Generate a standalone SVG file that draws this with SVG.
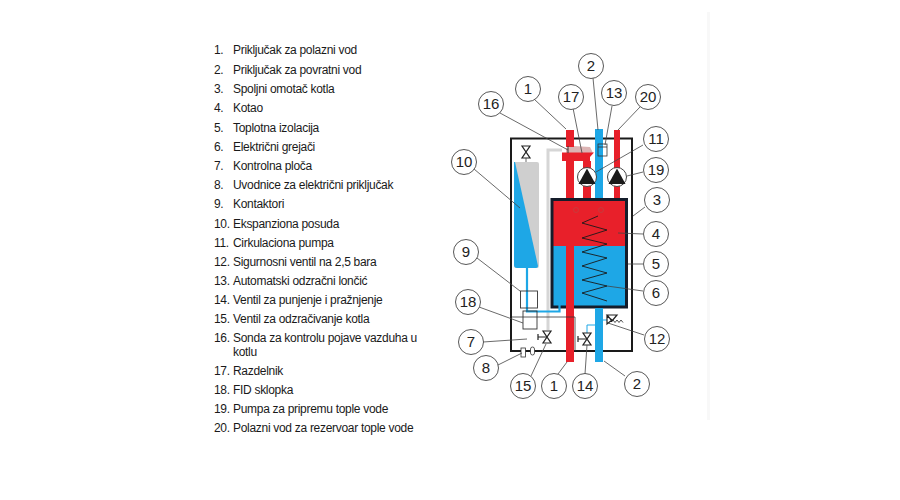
<svg xmlns="http://www.w3.org/2000/svg" width="900" height="500" viewBox="0 0 900 500">
<style>
.t{font-family:"Liberation Sans",Arial,sans-serif;font-size:12px;letter-spacing:-.3px;fill:#1a1a1a}
.n{font-family:"Liberation Sans",Arial,sans-serif;font-size:15px;fill:#222;text-anchor:middle}
.c{fill:#fff;stroke:#444;stroke-width:.9}
.l{stroke:#444;stroke-width:.8;fill:none}
.r{fill:#e8202a}
.b{fill:#1ea7e6}
.v{fill:#fff;stroke:#222;stroke-width:1.200}
</style>
<defs>
<g id="bub"><circle class="c" r="12.5"/></g>
<g id="valve"><path class="v" d="M-4-6L4-6L-4 6L4 6Z"/></g>
<g id="pump"><circle r="9.5" fill="#fff" stroke="#444" stroke-width="1"/><path d="M0-8.500L8.500 7H-8.500Z" fill="#1a1a1a"/></g>
</defs>
<rect width="900" height="500" fill="#fff"/>
<rect x="707" y="12" width="3" height="408" fill="#f8f8f8"/>
<g id="legend">
<text class="t" x="214" y="54">1.</text><text class="t" x="233" y="54">Priključak za polazni vod</text>
<text class="t" x="214" y="74">2.</text><text class="t" x="233" y="74">Priključak za povratni vod</text>
<text class="t" x="214" y="93">3.</text><text class="t" x="233" y="93">Spoljni omotač kotla</text>
<text class="t" x="214" y="112">4.</text><text class="t" x="233" y="112">Kotao</text>
<text class="t" x="214" y="132">5.</text><text class="t" x="233" y="132">Toplotna izolacija</text>
<text class="t" x="214" y="151">6.</text><text class="t" x="233" y="151">Električni grejači</text>
<text class="t" x="214" y="170">7.</text><text class="t" x="233" y="170">Kontrolna ploča</text>
<text class="t" x="214" y="189">8.</text><text class="t" x="233" y="189">Uvodnice za električni priključak</text>
<text class="t" x="214" y="208">9.</text><text class="t" x="233" y="208">Kontaktori</text>
<text class="t" x="214" y="228">10.</text><text class="t" x="233" y="228">Ekspanziona posuda</text>
<text class="t" x="214" y="247">11.</text><text class="t" x="233" y="247">Cirkulaciona pumpa</text>
<text class="t" x="214" y="266">12.</text><text class="t" x="233" y="266">Sigurnosni ventil na 2,5 bara</text>
<text class="t" x="214" y="285">13.</text><text class="t" x="233" y="285">Automatski odzračni lončić</text>
<text class="t" x="214" y="304">14.</text><text class="t" x="233" y="304">Ventil za punjenje i pražnjenje</text>
<text class="t" x="214" y="323">15.</text><text class="t" x="233" y="323">Ventil za odzračivanje kotla</text>
<text class="t" x="214" y="342">16.</text><text class="t" x="233" y="342">Sonda za kontrolu pojave vazduha u</text>
<text class="t" x="233" y="356">kotlu</text>
<text class="t" x="214" y="375">17.</text><text class="t" x="233" y="375">Razdelnik</text>
<text class="t" x="214" y="394">18.</text><text class="t" x="233" y="394">FID sklopka</text>
<text class="t" x="214" y="413">19.</text><text class="t" x="233" y="413">Pumpa za pripremu tople vode</text>
<text class="t" x="214" y="432">20.</text><text class="t" x="233" y="432">Polazni vod za rezervoar tople vode</text>
</g>
<g id="boiler">
<rect x="511" y="138.500" width="121" height="212.500" fill="#fff" stroke="#1a1a1a" stroke-width="2"/>
<path d="M548 330V150H562" fill="none" stroke="#d6d6d6" stroke-width="3"/>
<path d="M566 153V148L574 146L590 147L593 153Z" fill="#dcb4b4"/>
<rect x="514" y="162" width="25" height="106" rx="2" fill="#cfcfcf"/>
<path d="M515 162L538 266Q538 268 536 268H517Q514 268 514 265V162Z" class="b"/>
<rect class="b" x="595" y="129" width="8" height="70"/>
<rect class="r" x="614" y="130" width="6" height="69"/>
<rect class="r" x="566" y="130" width="8" height="17"/>
<path class="r" d="M562 152.500H594L590 157V161H562Z"/>
<path d="M568 146V153" stroke="#333" stroke-width="1"/>
<rect class="r" x="566" y="161" width="8" height="38"/>
<rect class="r" x="583" y="161" width="8" height="38"/>
<rect x="552" y="199" width="74" height="47.500" class="r"/>
<rect x="552" y="246" width="74" height="62" class="b"/>
<path d="M552 199.500H626.500V307H552Z" fill="none" stroke="#141c2a" stroke-width="3"/>
<rect class="r" x="566" y="246" width="8" height="116"/>
<rect class="b" x="595" y="308" width="8" height="54"/>
<circle cx="576" cy="210" r="2.500" fill="none" stroke="#c04040" stroke-width=".8"/>
<circle cx="601" cy="210" r="2.500" fill="none" stroke="#c04040" stroke-width=".8"/>
<path d="M598 216L582 223L607 230L582 238L607 244L582 252L607 258L582 266L607 273L582 280L607 286L582 293L607 301" fill="none" stroke="#1a1a1a" stroke-width=".9"/>
<path d="M527 268V311.500H559.500V305" fill="none" stroke="#1ea7e6" stroke-width="2.200"/>
<path d="M512 317H575V351" fill="none" stroke="#333" stroke-width=".8"/>
<rect x="520.500" y="291" width="17" height="17" fill="none" stroke="#333" stroke-width=".9"/>
<rect x="523" y="311" width="14" height="18" fill="none" stroke="#333" stroke-width=".9"/>
<rect x="598" y="144" width="9" height="12" fill="none" stroke="#333" stroke-width=".8"/>
<path d="M598 147H607" stroke="#333" stroke-width=".8"/>
<path d="M587 333V325H595" fill="none" stroke="#1ea7e6" stroke-width="1"/>
<path d="M603 320H608" stroke="#1ea7e6" stroke-width="1"/>
<use href="#valve" x="526" y="152"/>
<path d="M526 158V162" stroke="#444" stroke-width=".8"/>
<use href="#valve" x="547" y="337"/>
<path d="M547 337H538M538 334V340" stroke="#222" stroke-width="1.200"/>
<use href="#valve" x="587" y="339"/>
<path d="M587 339H578M578 336V342" stroke="#222" stroke-width="1.200"/>
<path class="v" d="M607 315H617L612 321ZM607 316L612 320L607 324Z"/>
<path d="M613 320L615 322.500L617 320L619 322.500L621 320L623 322.500" fill="none" stroke="#222" stroke-width=".8"/>
<use href="#pump" x="587" y="177"/>
<use href="#pump" x="617" y="177"/>
<rect x="521" y="348" width="4.500" height="9" fill="#fff" stroke="#333" stroke-width=".8"/>
<rect x="530.500" y="347" width="4" height="8" rx="2" fill="#fff" stroke="#333" stroke-width=".8"/>
</g>
<g id="connectors">
<path class="l" d="M534 99L566 129"/>
<path class="l" d="M593 78L598 130"/>
<path class="l" d="M573 108L582 153"/>
<path class="l" d="M612 106L605 145"/>
<path class="l" d="M640 107L618 130"/>
<path class="l" d="M500 113L568 150"/>
<path class="l" d="M643 145L596 172"/>
<path class="l" d="M643 172L627 176"/>
<path class="l" d="M645 207L633 216"/>
<path class="l" d="M474 169L520 208"/>
<path class="l" d="M643 234L618 233"/>
<path class="l" d="M643 264L628 264"/>
<path class="l" d="M643 291L607 286"/>
<path class="l" d="M477 258L520 291"/>
<path class="l" d="M479 307L523 323"/>
<path class="l" d="M644 335L608 323"/>
<path class="l" d="M483 342L527 339"/>
<path class="l" d="M498 365L522 353"/>
<path class="l" d="M531 376L546 344"/>
<path class="l" d="M558 374L567 362"/>
<path class="l" d="M585 374L587 345"/>
<path class="l" d="M625 376L604 361"/>
</g>
<g id="n1a"><use href="#bub" x="528" y="89"/><text class="n" x="528" y="94">1</text></g>
<g id="n2a"><use href="#bub" x="591" y="66"/><text class="n" x="591" y="71">2</text></g>
<g id="n17"><use href="#bub" x="571" y="97"/><text class="n" x="571" y="102">17</text></g>
<g id="n13"><use href="#bub" x="614" y="93"/><text class="n" x="614" y="98">13</text></g>
<g id="n20"><use href="#bub" x="648" y="97"/><text class="n" x="648" y="102">20</text></g>
<g id="n16"><use href="#bub" x="491" y="104"/><text class="n" x="491" y="109">16</text></g>
<g id="n11"><use href="#bub" x="656" y="139"/><text class="n" x="656" y="144">11</text></g>
<g id="n19"><use href="#bub" x="656" y="170"/><text class="n" x="656" y="175">19</text></g>
<g id="n3"><use href="#bub" x="657" y="200"/><text class="n" x="657" y="205">3</text></g>
<g id="n10"><use href="#bub" x="464" y="162"/><text class="n" x="464" y="167">10</text></g>
<g id="n4"><use href="#bub" x="656" y="234"/><text class="n" x="656" y="239">4</text></g>
<g id="n5"><use href="#bub" x="656" y="264"/><text class="n" x="656" y="269">5</text></g>
<g id="n6"><use href="#bub" x="656" y="293"/><text class="n" x="656" y="298">6</text></g>
<g id="n9"><use href="#bub" x="466" y="252"/><text class="n" x="466" y="257">9</text></g>
<g id="n18"><use href="#bub" x="468" y="302"/><text class="n" x="468" y="307">18</text></g>
<g id="n12"><use href="#bub" x="657" y="339"/><text class="n" x="657" y="344">12</text></g>
<g id="n7"><use href="#bub" x="471" y="342"/><text class="n" x="471" y="347">7</text></g>
<g id="n8"><use href="#bub" x="486" y="368"/><text class="n" x="486" y="373">8</text></g>
<g id="n15"><use href="#bub" x="523" y="386"/><text class="n" x="523" y="391">15</text></g>
<g id="n1b"><use href="#bub" x="554" y="386"/><text class="n" x="554" y="391">1</text></g>
<g id="n14"><use href="#bub" x="585" y="386"/><text class="n" x="585" y="391">14</text></g>
<g id="n2b"><use href="#bub" x="637" y="384"/><text class="n" x="637" y="389">2</text></g>
</svg>
